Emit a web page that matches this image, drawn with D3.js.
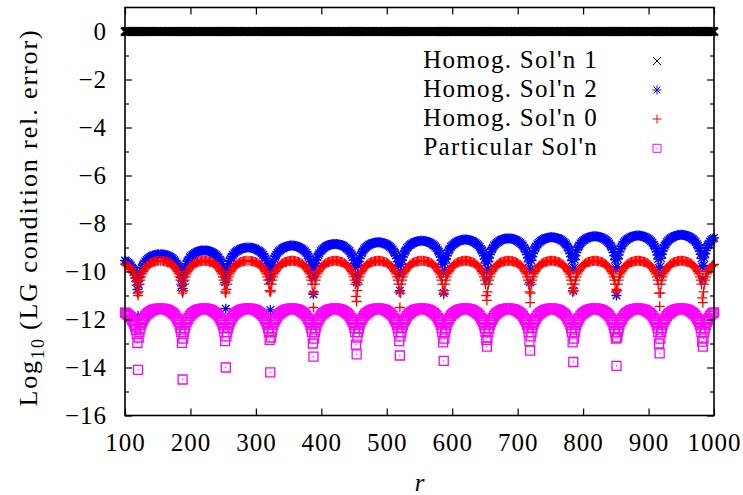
<!DOCTYPE html>
<html>
<head>
<meta charset="utf-8">
<script src="https://cdn.jsdelivr.net/npm/d3@7"></script>
<style>
  body { margin: 0; background: #fff; }
  text { font-family: "Liberation Serif", "Times New Roman", serif; fill: #000; }
</style>
</head>
<body>
<script>
const width = 743;
const height = 495;

// sample positions (r) shared by all four series
const rVals = [100, 101, 103, 105, 107, 109, 111, 112.5, 114, 115.5, 116.7, 117.8, 119,
  120, 121, 122.2, 123.3, 124.5, 126, 127.5, 129, 131, 133, 135, 137, 139, 141, 143, 145, 147, 149, 151, 154, 157, 159, 161, 163, 165, 167, 169, 171, 173, 175, 177, 179, 180.5, 182, 183.5, 184.7, 185.8, 187,
  188, 189, 190.2, 191.3, 192.5, 194, 195.5, 197, 199, 201, 203, 205, 207, 209, 211, 213, 215, 217, 219, 221, 223, 225, 227, 229, 231, 233, 235, 237, 239, 241, 243, 245, 246.5, 248, 249.5, 250.7, 251.8, 253,
  254, 255, 256.2, 257.3, 258.5, 260, 261.5, 263, 265, 267, 269, 271, 273, 275, 277, 279, 281, 283, 285, 288, 291, 293, 295, 297, 299, 301, 303, 305, 307, 309, 311, 313, 314.5, 316, 317.5, 318.7, 319.8, 321,
  322, 323, 324.2, 325.3, 326.5, 328, 329.5, 331, 333, 335, 337, 339, 341, 343, 345, 347, 349, 351, 353, 355, 357, 359, 361, 363, 365, 367, 369, 371, 373, 375, 377, 379, 380.5, 382, 383.5, 384.7, 385.8, 387,
  388, 389, 390.2, 391.3, 392.5, 394, 395.5, 397, 399, 401, 403, 405, 407, 409, 411, 413, 415, 417, 419, 421, 423, 425, 427, 429, 431, 433, 435, 437, 439, 441, 443, 445, 446.5, 448, 449.5, 450.7, 451.8, 453,
  454, 455, 456.2, 457.3, 458.5, 460, 461.5, 463, 465, 467, 469, 471, 473, 475, 477, 479, 481, 483, 485, 487, 489, 491, 493, 495, 497, 499, 501, 503, 505, 507, 509, 511, 512.5, 514, 515.5, 516.7, 517.8, 519,
  520, 521, 522.2, 523.3, 524.5, 526, 527.5, 529, 531, 533, 535, 537, 539, 541, 543, 545, 547, 549, 551, 553.5, 556, 558, 560, 562, 564, 566, 568, 570, 572, 574, 576, 578, 579.5, 581, 582.5, 583.7, 584.8, 586,
  587, 588, 589.2, 590.3, 591.5, 593, 594.5, 596, 598, 600, 602, 604, 606, 608, 610, 612, 614, 616, 618, 620, 622, 624, 626, 628, 630, 632, 634, 636, 638, 640, 642, 644, 645.5, 647, 648.5, 649.7, 650.8, 652,
  653, 654, 655.2, 656.3, 657.5, 659, 660.5, 662, 664, 666, 668, 670, 672, 674, 676, 678, 680, 682, 684, 686, 688, 690, 692, 694, 696, 698, 700, 702, 704, 706, 708, 710, 711.5, 713, 714.5, 715.7, 716.8, 718,
  719, 720, 721.2, 722.3, 723.5, 725, 726.5, 728, 730, 732, 734, 736, 738, 740, 742, 744, 746, 748, 750, 752, 754, 756, 758, 760, 762, 764, 766, 768, 770, 772, 774, 776, 777.5, 779, 780.5, 781.7, 782.8, 784,
  785, 786, 787.2, 788.3, 789.5, 791, 792.5, 794, 796, 798, 800, 802, 804, 806, 808, 810, 812, 814, 816, 818, 820, 822, 824, 826, 828, 830, 832, 834, 836, 838, 840, 842, 843.5, 845, 846.5, 847.7, 848.8, 850,
  851, 852, 853.2, 854.3, 855.5, 857, 858.5, 860, 862, 864, 866, 868, 870, 872, 874, 876, 878, 880, 882, 884, 886, 888, 890, 892, 894, 896, 898, 900, 902, 904, 906, 908, 909.5, 911, 912.5, 913.7, 914.8, 916,
  917, 918, 919.2, 920.3, 921.5, 923, 924.5, 926, 928, 930, 932, 934, 936, 938, 940, 942, 944, 946, 948, 950, 952, 954, 956, 958, 960, 962, 964, 966, 968, 970, 972, 974, 975.5, 977, 978.5, 979.7, 980.8, 982,
  983, 984, 985.2, 986.3, 987.5, 989, 990.5, 992, 994, 996, 998, 1000];

// Homog. Sol'n 1
const sol1 = [0,0,0,0,0,0,0,0,0,0,0,0,0,
  0,0,0,0,0,0,0,0,0,0, 0,0,0,0,0,0,0,0,0,0, 0,0,0,0,0,0,0,0,0,0, 0,0,0,0,0,0,0,0,
  0,0,0,0,0,0,0,0,0,0, 0,0,0,0,0,0,0,0,0,0, 0,0,0,0,0,0,0,0,0,0, 0,0,0,0,0,0,0,0,
  0,0,0,0,0,0,0,0,0,0, 0,0,0,0,0,0,0,0,0,0, 0,0,0,0,0,0,0,0,0,0, 0,0,0,0,0,0,0,0,
  0,0,0,0,0,0,0,0,0,0, 0,0,0,0,0,0,0,0,0,0, 0,0,0,0,0,0,0,0,0,0, 0,0,0,0,0,0,0,0,
  0,0,0,0,0,0,0,0,0,0, 0,0,0,0,0,0,0,0,0,0, 0,0,0,0,0,0,0,0,0,0, 0,0,0,0,0,0,0,0,
  0,0,0,0,0,0,0,0,0,0, 0,0,0,0,0,0,0,0,0,0, 0,0,0,0,0,0,0,0,0,0, 0,0,0,0,0,0,0,0,
  0,0,0,0,0,0,0,0,0,0, 0,0,0,0,0,0,0,0,0,0, 0,0,0,0,0,0,0,0,0,0, 0,0,0,0,0,0,0,0,
  0,0,0,0,0,0,0,0,0,0, 0,0,0,0,0,0,0,0,0,0, 0,0,0,0,0,0,0,0,0,0, 0,0,0,0,0,0,0,0,
  0,0,0,0,0,0,0,0,0,0, 0,0,0,0,0,0,0,0,0,0, 0,0,0,0,0,0,0,0,0,0, 0,0,0,0,0,0,0,0,
  0,0,0,0,0,0,0,0,0,0, 0,0,0,0,0,0,0,0,0,0, 0,0,0,0,0,0,0,0,0,0, 0,0,0,0,0,0,0,0,
  0,0,0,0,0,0,0,0,0,0, 0,0,0,0,0,0,0,0,0,0, 0,0,0,0,0,0,0,0,0,0, 0,0,0,0,0,0,0,0,
  0,0,0,0,0,0,0,0,0,0, 0,0,0,0,0,0,0,0,0,0, 0,0,0,0,0,0,0,0,0,0, 0,0,0,0,0,0,0,0,
  0,0,0,0,0,0,0,0,0,0, 0,0,0,0,0,0,0,0,0,0, 0,0,0,0,0,0,0,0,0,0, 0,0,0,0,0,0,0,0,
  0,0,0,0,0,0,0,0,0,0,0,0];

// Homog. Sol'n 2
const sol2 = [-9.54, -9.56, -9.6, -9.64, -9.69, -9.75, -9.84, -9.91, -10.0, -10.12, -10.26, -10.43, -10.75,
  -11.85, -10.55, -10.26, -10.09, -9.95, -9.83, -9.74, -9.67, -9.58, -9.52, -9.47, -9.43, -9.39, -9.36, -9.33, -9.32, -9.3, -9.29, -9.28, -9.28, -9.28, -9.29, -9.3, -9.32, -9.33, -9.36, -9.39, -9.43, -9.47, -9.52, -9.58, -9.67, -9.74, -9.83, -9.95, -10.09, -10.26, -10.6,
  -10.7, -10.4, -10.1, -9.93, -9.79, -9.67, -9.58, -9.51, -9.42, -9.36, -9.31, -9.27, -9.23, -9.2, -9.17, -9.16, -9.14, -9.13, -9.12, -9.12, -9.12, -9.13, -9.14, -9.16, -9.17, -9.2, -9.23, -9.27, -9.31, -9.36, -9.42, -9.51, -9.58, -9.67, -9.79, -9.93, -10.1, -10.45,
  -11.55, -10.3, -9.98, -9.81, -9.67, -9.55, -9.46, -9.39, -9.3, -9.24, -9.19, -9.15, -9.11, -9.08, -9.05, -9.04, -9.02, -9.01, -9.0, -9.0, -9.0, -9.01, -9.02, -9.04, -9.05, -9.08, -9.11, -9.15, -9.19, -9.24, -9.3, -9.39, -9.46, -9.55, -9.67, -9.81, -9.98, -10.35,
  -11.6, -10.2, -9.9, -9.73, -9.59, -9.47, -9.38, -9.31, -9.22, -9.16, -9.11, -9.07, -9.03, -9.0, -8.97, -8.96, -8.94, -8.93, -8.92, -8.92, -8.92, -8.93, -8.94, -8.96, -8.97, -9.0, -9.03, -9.07, -9.11, -9.16, -9.22, -9.31, -9.38, -9.47, -9.59, -9.73, -9.9, -10.25,
  -10.95, -10.15, -9.83, -9.66, -9.52, -9.4, -9.31, -9.24, -9.15, -9.09, -9.04, -9.0, -8.96, -8.93, -8.9, -8.89, -8.87, -8.86, -8.85, -8.85, -8.85, -8.86, -8.87, -8.89, -8.9, -8.93, -8.96, -9.0, -9.04, -9.09, -9.15, -9.24, -9.31, -9.4, -9.52, -9.66, -9.83, -10.2,
  -10.45, -10.1, -9.76, -9.59, -9.45, -9.33, -9.24, -9.17, -9.08, -9.02, -8.97, -8.93, -8.89, -8.86, -8.83, -8.82, -8.8, -8.79, -8.78, -8.78, -8.78, -8.79, -8.8, -8.82, -8.83, -8.86, -8.89, -8.93, -8.97, -9.02, -9.08, -9.17, -9.24, -9.33, -9.45, -9.59, -9.76, -10.1,
  -10.8, -10.0, -9.7, -9.53, -9.39, -9.27, -9.18, -9.11, -9.02, -8.96, -8.91, -8.87, -8.83, -8.8, -8.77, -8.76, -8.74, -8.73, -8.72, -8.72, -8.72, -8.73, -8.74, -8.76, -8.77, -8.8, -8.83, -8.87, -8.91, -8.96, -9.02, -9.11, -9.18, -9.27, -9.39, -9.53, -9.7, -10.05,
  -10.9, -9.95, -9.65, -9.48, -9.34, -9.22, -9.13, -9.06, -8.97, -8.91, -8.86, -8.82, -8.78, -8.75, -8.72, -8.71, -8.69, -8.68, -8.67, -8.67, -8.67, -8.68, -8.69, -8.71, -8.72, -8.75, -8.78, -8.82, -8.86, -8.91, -8.97, -9.06, -9.13, -9.22, -9.34, -9.48, -9.65, -10.0,
  -10.3, -9.9, -9.6, -9.43, -9.29, -9.17, -9.08, -9.01, -8.92, -8.86, -8.81, -8.77, -8.73, -8.7, -8.67, -8.66, -8.64, -8.63, -8.62, -8.62, -8.62, -8.63, -8.64, -8.66, -8.67, -8.7, -8.73, -8.77, -8.81, -8.86, -8.92, -9.01, -9.08, -9.17, -9.29, -9.43, -9.6, -9.95,
  -10.45, -9.9, -9.55, -9.38, -9.24, -9.12, -9.03, -8.96, -8.87, -8.81, -8.76, -8.72, -8.68, -8.65, -8.62, -8.61, -8.59, -8.58, -8.57, -8.57, -8.57, -8.58, -8.59, -8.61, -8.62, -8.65, -8.68, -8.72, -8.76, -8.81, -8.87, -8.96, -9.03, -9.12, -9.24, -9.38, -9.55, -9.9,
  -10.8, -9.85, -9.51, -9.34, -9.2, -9.08, -8.99, -8.92, -8.83, -8.77, -8.72, -8.68, -8.64, -8.61, -8.58, -8.57, -8.55, -8.54, -8.53, -8.53, -8.53, -8.54, -8.55, -8.57, -8.58, -8.61, -8.64, -8.68, -8.72, -8.77, -8.83, -8.92, -8.99, -9.08, -9.2, -9.34, -9.51, -9.85,
  -11.0, -9.8, -9.48, -9.31, -9.17, -9.05, -8.96, -8.89, -8.8, -8.74, -8.69, -8.65, -8.61, -8.58, -8.55, -8.54, -8.52, -8.51, -8.5, -8.5, -8.5, -8.51, -8.52, -8.54, -8.55, -8.58, -8.61, -8.65, -8.69, -8.74, -8.8, -8.89, -8.96, -9.05, -9.17, -9.31, -9.48, -9.85,
  -10.1, -9.8, -9.45, -9.28, -9.14, -9.02, -8.93, -8.86, -8.77, -8.71, -8.66, -8.62, -8.58, -8.55, -8.52, -8.51, -8.49, -8.48, -8.47, -8.47, -8.47, -8.48, -8.49, -8.51, -8.52, -8.55, -8.58, -8.62, -8.66, -8.71, -8.77, -8.86, -8.93, -9.02, -9.14, -9.28, -9.45, -9.8,
  -10.3, -9.75, -9.43, -9.26, -9.12, -9.0, -8.91, -8.84, -8.75, -8.69, -8.64, -8.6];

// Homog. Sol'n 0
const sol0 = [-9.69, -9.71, -9.75, -9.79, -9.84, -9.9, -9.99, -10.06, -10.15, -10.27, -10.41, -10.58, -10.9,
  -11.0, -10.85, -10.53, -10.36, -10.22, -10.1, -10.01, -9.94, -9.85, -9.79, -9.74, -9.7, -9.66, -9.63, -9.6, -9.59, -9.57, -9.56, -9.55, -9.55, -9.55, -9.56, -9.57, -9.59, -9.6, -9.63, -9.66, -9.7, -9.74, -9.79, -9.85, -9.94, -10.01, -10.1, -10.22, -10.36, -10.53, -10.8,
  -10.9, -10.8, -10.53, -10.36, -10.22, -10.1, -10.01, -9.94, -9.85, -9.79, -9.74, -9.7, -9.66, -9.63, -9.6, -9.59, -9.57, -9.56, -9.55, -9.55, -9.55, -9.56, -9.57, -9.59, -9.6, -9.63, -9.66, -9.7, -9.74, -9.79, -9.85, -9.94, -10.01, -10.1, -10.22, -10.36, -10.53, -10.85,
  -10.9, -10.75, -10.53, -10.36, -10.22, -10.1, -10.01, -9.94, -9.85, -9.79, -9.74, -9.7, -9.66, -9.63, -9.6, -9.59, -9.57, -9.56, -9.55, -9.55, -9.55, -9.56, -9.57, -9.59, -9.6, -9.63, -9.66, -9.7, -9.74, -9.79, -9.85, -9.94, -10.01, -10.1, -10.22, -10.36, -10.53, -10.8,
  -10.85, -10.8, -10.53, -10.36, -10.22, -10.1, -10.01, -9.94, -9.85, -9.79, -9.74, -9.7, -9.66, -9.63, -9.6, -9.59, -9.57, -9.56, -9.55, -9.55, -9.55, -9.56, -9.57, -9.59, -9.6, -9.63, -9.66, -9.7, -9.74, -9.79, -9.85, -9.94, -10.01, -10.1, -10.22, -10.36, -10.53, -10.9,
  -11.5, -10.85, -10.53, -10.36, -10.22, -10.1, -10.01, -9.94, -9.85, -9.79, -9.74, -9.7, -9.66, -9.63, -9.6, -9.59, -9.57, -9.56, -9.55, -9.55, -9.55, -9.56, -9.57, -9.59, -9.6, -9.63, -9.66, -9.7, -9.74, -9.79, -9.85, -9.94, -10.01, -10.1, -10.22, -10.36, -10.53, -11.04,
  -11.25, -10.8, -10.53, -10.36, -10.22, -10.1, -10.01, -9.94, -9.85, -9.79, -9.74, -9.7, -9.66, -9.63, -9.6, -9.59, -9.57, -9.56, -9.55, -9.55, -9.55, -9.56, -9.57, -9.59, -9.6, -9.63, -9.66, -9.7, -9.74, -9.79, -9.85, -9.94, -10.01, -10.1, -10.22, -10.36, -10.53, -10.85,
  -11.5, -10.9, -10.53, -10.36, -10.22, -10.1, -10.01, -9.94, -9.85, -9.79, -9.74, -9.7, -9.66, -9.63, -9.6, -9.59, -9.57, -9.56, -9.55, -9.55, -9.55, -9.56, -9.57, -9.59, -9.6, -9.63, -9.66, -9.7, -9.74, -9.79, -9.85, -9.94, -10.01, -10.1, -10.22, -10.36, -10.53, -10.8,
  -10.95, -10.8, -10.53, -10.36, -10.22, -10.1, -10.01, -9.94, -9.85, -9.79, -9.74, -9.7, -9.66, -9.63, -9.6, -9.59, -9.57, -9.56, -9.55, -9.55, -9.55, -9.56, -9.57, -9.59, -9.6, -9.63, -9.66, -9.7, -9.74, -9.79, -9.85, -9.94, -10.01, -10.1, -10.22, -10.36, -10.53, -11.0,
  -11.2, -10.85, -10.53, -10.36, -10.22, -10.1, -10.01, -9.94, -9.85, -9.79, -9.74, -9.7, -9.66, -9.63, -9.6, -9.59, -9.57, -9.56, -9.55, -9.55, -9.55, -9.56, -9.57, -9.59, -9.6, -9.63, -9.66, -9.7, -9.74, -9.79, -9.85, -9.94, -10.01, -10.1, -10.22, -10.36, -10.53, -10.85,
  -11.3, -10.9, -10.53, -10.36, -10.22, -10.1, -10.01, -9.94, -9.85, -9.79, -9.74, -9.7, -9.66, -9.63, -9.6, -9.59, -9.57, -9.56, -9.55, -9.55, -9.55, -9.56, -9.57, -9.59, -9.6, -9.63, -9.66, -9.7, -9.74, -9.79, -9.85, -9.94, -10.01, -10.1, -10.22, -10.36, -10.53, -10.85,
  -10.7, -10.8, -10.53, -10.36, -10.22, -10.1, -10.01, -9.94, -9.85, -9.79, -9.74, -9.7, -9.66, -9.63, -9.6, -9.59, -9.57, -9.56, -9.55, -9.55, -9.55, -9.56, -9.57, -9.59, -9.6, -9.63, -9.66, -9.7, -9.74, -9.79, -9.85, -9.94, -10.01, -10.1, -10.22, -10.36, -10.53, -10.85,
  -10.75, -10.8, -10.53, -10.36, -10.22, -10.1, -10.01, -9.94, -9.85, -9.79, -9.74, -9.7, -9.66, -9.63, -9.6, -9.59, -9.57, -9.56, -9.55, -9.55, -9.55, -9.56, -9.57, -9.59, -9.6, -9.63, -9.66, -9.7, -9.74, -9.79, -9.85, -9.94, -10.01, -10.1, -10.22, -10.36, -10.53, -10.9,
  -11.45, -10.9, -10.53, -10.36, -10.22, -10.1, -10.01, -9.94, -9.85, -9.79, -9.74, -9.7, -9.66, -9.63, -9.6, -9.59, -9.57, -9.56, -9.55, -9.55, -9.55, -9.56, -9.57, -9.59, -9.6, -9.63, -9.66, -9.7, -9.74, -9.79, -9.85, -9.94, -10.01, -10.1, -10.22, -10.36, -10.53, -11.1,
  -11.3, -10.85, -10.53, -10.36, -10.22, -10.1, -10.01, -9.94, -9.85, -9.79, -9.74, -9.7];

// Particular Sol'n
const solP = [-11.71, -11.73, -11.77, -11.81, -11.86, -11.92, -12.01, -12.08, -12.17, -12.29, -12.43, -12.6, -12.98,
  -14.1, -12.75, -12.53, -12.36, -12.22, -12.1, -12.01, -11.94, -11.85, -11.79, -11.74, -11.7, -11.66, -11.63, -11.6, -11.59, -11.57, -11.56, -11.55, -11.55, -11.55, -11.56, -11.57, -11.59, -11.6, -11.63, -11.66, -11.7, -11.74, -11.79, -11.85, -11.94, -12.01, -12.1, -12.22, -12.36, -12.53, -12.97,
  -14.5, -12.8, -12.53, -12.36, -12.22, -12.1, -12.01, -11.94, -11.85, -11.79, -11.74, -11.7, -11.66, -11.63, -11.6, -11.59, -11.57, -11.56, -11.55, -11.55, -11.55, -11.56, -11.57, -11.59, -11.6, -11.63, -11.66, -11.7, -11.74, -11.79, -11.85, -11.94, -12.01, -12.1, -12.22, -12.36, -12.53, -12.9,
  -14.0, -12.7, -12.53, -12.36, -12.22, -12.1, -12.01, -11.94, -11.85, -11.79, -11.74, -11.7, -11.66, -11.63, -11.6, -11.59, -11.57, -11.56, -11.55, -11.55, -11.55, -11.56, -11.57, -11.59, -11.6, -11.63, -11.66, -11.7, -11.74, -11.79, -11.85, -11.94, -12.01, -12.1, -12.22, -12.36, -12.53, -12.85,
  -14.2, -12.75, -12.53, -12.36, -12.22, -12.1, -12.01, -11.94, -11.85, -11.79, -11.74, -11.7, -11.66, -11.63, -11.6, -11.59, -11.57, -11.56, -11.55, -11.55, -11.55, -11.56, -11.57, -11.59, -11.6, -11.63, -11.66, -11.7, -11.74, -11.79, -11.85, -11.94, -12.01, -12.1, -12.22, -12.36, -12.53, -13.0,
  -13.55, -12.8, -12.53, -12.36, -12.22, -12.1, -12.01, -11.94, -11.85, -11.79, -11.74, -11.7, -11.66, -11.63, -11.6, -11.59, -11.57, -11.56, -11.55, -11.55, -11.55, -11.56, -11.57, -11.59, -11.6, -11.63, -11.66, -11.7, -11.74, -11.79, -11.85, -11.94, -12.01, -12.1, -12.22, -12.36, -12.53, -13.05,
  -13.45, -12.75, -12.53, -12.36, -12.22, -12.1, -12.01, -11.94, -11.85, -11.79, -11.74, -11.7, -11.66, -11.63, -11.6, -11.59, -11.57, -11.56, -11.55, -11.55, -11.55, -11.56, -11.57, -11.59, -11.6, -11.63, -11.66, -11.7, -11.74, -11.79, -11.85, -11.94, -12.01, -12.1, -12.22, -12.36, -12.53, -12.9,
  -13.5, -12.7, -12.53, -12.36, -12.22, -12.1, -12.01, -11.94, -11.85, -11.79, -11.74, -11.7, -11.66, -11.63, -11.6, -11.59, -11.57, -11.56, -11.55, -11.55, -11.55, -11.56, -11.57, -11.59, -11.6, -11.63, -11.66, -11.7, -11.74, -11.79, -11.85, -11.94, -12.01, -12.1, -12.22, -12.36, -12.53, -12.95,
  -13.72, -12.8, -12.53, -12.36, -12.22, -12.1, -12.01, -11.94, -11.85, -11.79, -11.74, -11.7, -11.66, -11.63, -11.6, -11.59, -11.57, -11.56, -11.55, -11.55, -11.55, -11.56, -11.57, -11.59, -11.6, -11.63, -11.66, -11.7, -11.74, -11.79, -11.85, -11.94, -12.01, -12.1, -12.22, -12.36, -12.53, -12.85,
  -13.13, -12.75, -12.53, -12.36, -12.22, -12.1, -12.01, -11.94, -11.85, -11.79, -11.74, -11.7, -11.66, -11.63, -11.6, -11.59, -11.57, -11.56, -11.55, -11.55, -11.55, -11.56, -11.57, -11.59, -11.6, -11.63, -11.66, -11.7, -11.74, -11.79, -11.85, -11.94, -12.01, -12.1, -12.22, -12.36, -12.53, -12.9,
  -13.3, -12.7, -12.53, -12.36, -12.22, -12.1, -12.01, -11.94, -11.85, -11.79, -11.74, -11.7, -11.66, -11.63, -11.6, -11.59, -11.57, -11.56, -11.55, -11.55, -11.55, -11.56, -11.57, -11.59, -11.6, -11.63, -11.66, -11.7, -11.74, -11.79, -11.85, -11.94, -12.01, -12.1, -12.22, -12.36, -12.53, -12.95,
  -13.77, -12.8, -12.53, -12.36, -12.22, -12.1, -12.01, -11.94, -11.85, -11.79, -11.74, -11.7, -11.66, -11.63, -11.6, -11.59, -11.57, -11.56, -11.55, -11.55, -11.55, -11.56, -11.57, -11.59, -11.6, -11.63, -11.66, -11.7, -11.74, -11.79, -11.85, -11.94, -12.01, -12.1, -12.22, -12.36, -12.53, -12.8,
  -13.93, -12.75, -12.53, -12.36, -12.22, -12.1, -12.01, -11.94, -11.85, -11.79, -11.74, -11.7, -11.66, -11.63, -11.6, -11.59, -11.57, -11.56, -11.55, -11.55, -11.55, -11.56, -11.57, -11.59, -11.6, -11.63, -11.66, -11.7, -11.74, -11.79, -11.85, -11.94, -12.01, -12.1, -12.22, -12.36, -12.53, -13.0,
  -13.41, -12.8, -12.53, -12.36, -12.22, -12.1, -12.01, -11.94, -11.85, -11.79, -11.74, -11.7, -11.66, -11.63, -11.6, -11.59, -11.57, -11.56, -11.55, -11.55, -11.55, -11.56, -11.57, -11.59, -11.6, -11.63, -11.66, -11.7, -11.74, -11.79, -11.85, -11.94, -12.01, -12.1, -12.22, -12.36, -12.53, -12.92,
  -13.13, -12.8, -12.53, -12.36, -12.22, -12.1, -12.01, -11.94, -11.85, -11.79, -11.74, -11.7];

const seriesNames = ["Homog. Sol'n 1", "Homog. Sol'n 2", "Homog. Sol'n 0", "Particular Sol'n"];
const xTicks = [100, 200, 300, 400, 500, 600, 700, 800, 900, 1000];
const yTicks = [-16, -14, -12, -10, -8, -6, -4, -2, 0];
const yMinorTicks = [-15, -13, -11, -9, -7, -5, -3, -1];

const plotLeft = 125, plotRight = 714, plotTop = 7.5, plotBottom = 415.5;

const x = d3.scaleLinear().domain([100, 1000]).range([plotLeft, plotRight]);
const y = d3.scaleLinear().domain([-16, 1]).range([plotBottom, plotTop]);

const svg = d3.create('svg')
  .attr('width', width)
  .attr('height', height)
  .style('background-color', '#fff');

document.body.appendChild(svg.node());

// point shapes, gnuplot style (plot size, legend size)
const crossShape = 'M-4,-4L4,4M-4,4L4,-4';
const starShape = 'M-5,0H5M0,-5V5M-3.8,-3.8L3.8,3.8M-3.8,3.8L3.8,-3.8';
const plusShape = 'M-5,0H5M0,-5V5';
const boxShape = 'M-4.5,-4.5H4.5V4.5H-4.5ZM-0.5,0H0.5';
const starKey = 'M-4.5,0H4.5M0,-4.5V4.5M-3.4,-3.4L3.4,3.4M-3.4,3.4L3.4,-3.4';
const plusKey = 'M-4.5,0H4.5M0,-4.5V4.5';
const boxKey = 'M-4,-4H4V4H-4ZM-0.5,0H0.5';

const styles = [
  {shape: crossShape, key: crossShape, color: '#000', width: 2},
  {shape: starShape, key: starKey, color: '#0000ff', width: 1.3},
  {shape: plusShape, key: plusKey, color: '#ff0000', width: 1.3},
  {shape: boxShape, key: boxKey, color: '#ff00ff', width: 1.3}
];

const allSeries = [sol1, sol2, sol0, solP];

allSeries.forEach((vals, i) => {
  if (vals.length !== rVals.length) console.error('length mismatch', i, vals.length, rVals.length);
  const pts = rVals.map((r, j) => ({r: r, v: vals[j]}));
  svg.append('g')
    .selectAll('path')
    .data(pts)
    .join('path')
    .attr('transform', d => `translate(${x(d.r)},${y(d.v)})`)
    .attr('d', styles[i].shape)
    .attr('fill', 'none')
    .attr('stroke', styles[i].color)
    .attr('stroke-width', styles[i].width);
});

// axes: ticks pointing inward like gnuplot
const fontSize = 25;

const xAxis = svg.append('g')
  .attr('transform', `translate(0,${plotBottom})`)
  .call(d3.axisBottom(x).tickValues(xTicks).tickFormat(d3.format('d'))
    .tickSizeInner(-7).tickSizeOuter(0).tickPadding(13));
svg.append('g')
  .attr('transform', `translate(0,${plotTop})`)
  .call(d3.axisTop(x).tickValues(xTicks).tickSizeInner(-7).tickSizeOuter(0).tickFormat(''));

svg.append('g')
  .attr('transform', `translate(${plotLeft},0)`)
  .call(d3.axisLeft(y).tickValues(yTicks).tickFormat(d3.format('d'))
    .tickSizeInner(-7).tickSizeOuter(0).tickPadding(18));
svg.append('g')
  .attr('transform', `translate(${plotLeft},0)`)
  .call(d3.axisLeft(y).tickValues(yMinorTicks).tickSizeInner(-4).tickSizeOuter(0).tickFormat(''));
svg.append('g')
  .attr('transform', `translate(${plotRight},0)`)
  .call(d3.axisRight(y).tickValues(yTicks).tickSizeInner(-7).tickSizeOuter(0).tickFormat(''));
svg.append('g')
  .attr('transform', `translate(${plotRight},0)`)
  .call(d3.axisRight(y).tickValues(yMinorTicks).tickSizeInner(-4).tickSizeOuter(0).tickFormat(''));

svg.selectAll('.domain').remove();
svg.selectAll('.tick line').attr('stroke', '#000').attr('stroke-width', 1.2);
svg.selectAll('.tick text')
  .style('font-family', '"Liberation Serif", serif')
  .attr('font-size', fontSize)
  .attr('letter-spacing', 1)
  .attr('fill', '#000');
xAxis.selectAll('.tick text').attr('dy', '0.9em');

// frame
svg.append('rect')
  .attr('x', plotLeft)
  .attr('y', plotTop)
  .attr('width', plotRight - plotLeft)
  .attr('height', plotBottom - plotTop)
  .attr('fill', 'none')
  .attr('stroke', '#000')
  .attr('stroke-width', 1.6);

// axis titles
const yTitle = svg.append('text')
  .attr('transform', `translate(37,${(plotTop + plotBottom) / 2 + 6}) rotate(-90)`)
  .attr('text-anchor', 'middle')
  .attr('font-size', 26)
  .attr('letter-spacing', 1.9);
yTitle.append('tspan').text('Log');
yTitle.append('tspan').attr('font-size', 18).attr('dy', 7).text('10');
yTitle.append('tspan').attr('dy', -7).text('\u2009(LG condition rel. error)');

svg.append('text')
  .attr('x', (plotLeft + plotRight) / 2)
  .attr('y', 491)
  .attr('text-anchor', 'middle')
  .attr('font-size', fontSize)
  .style('font-style', 'italic')
  .text('r');

// legend
const legendY = [61, 90, 119, 148.3];
const legend = svg.append('g');
seriesNames.forEach((name, i) => {
  legend.append('text')
    .attr('x', 598)
    .attr('y', legendY[i] + 7)
    .attr('text-anchor', 'end')
    .attr('font-size', fontSize)
    .attr('letter-spacing', 1.3)
    .text(name);
  legend.append('path')
    .attr('transform', `translate(657,${legendY[i]})`)
    .attr('d', styles[i].key)
    .attr('fill', 'none')
    .attr('stroke', styles[i].color)
    .attr('stroke-width', 1);
});
</script>
</body>
</html>
